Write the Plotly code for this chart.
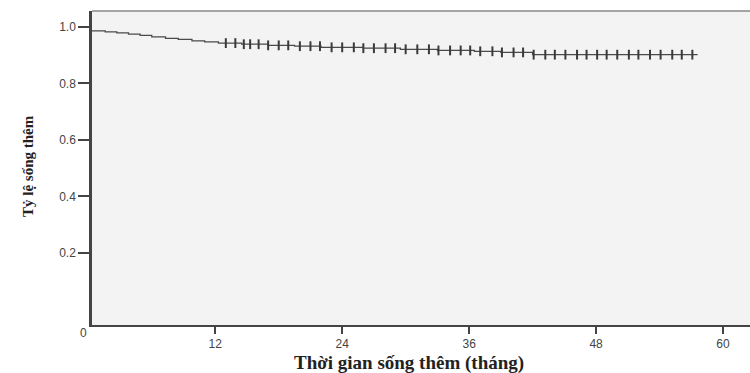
import plotly.graph_objects as go
import numpy as np

# Kaplan-Meier step data
event_times = [0, 1.6, 2.7, 3.8, 4.9, 6.0, 7.3, 8.5, 9.8, 11.0, 12.3, 14.5, 17.0, 19.5, 22.0, 26.0, 29.5, 33.0, 36.5, 39.0, 42.0]
survival = [0.986, 0.983, 0.979, 0.975, 0.970, 0.965, 0.960, 0.956, 0.951, 0.947, 0.943, 0.939, 0.935, 0.932, 0.928, 0.925, 0.921, 0.917, 0.914, 0.910, 0.902]
end_time = 57.6
censor_times = [13.0, 13.9, 14.7, 15.3, 16.1, 17.0, 18.0, 18.9, 20.0, 21.0, 21.9, 23.0, 24.0, 25.1,
                26.0, 27.0, 28.1, 29.0, 30.0, 31.1, 32.2, 33.1, 34.2, 35.2, 36.1, 37.05, 38.2, 39.1,
                40.2, 41.1, 42.1, 43.2, 44.1, 45.1, 46.2, 47.1, 48.1, 49.0, 50.0, 51.1, 52.0, 53.1,
                54.1, 55.2, 56.1, 57.1]
x_ticks = [12, 24, 36, 48, 60]
y_ticks = [0.2, 0.4, 0.6, 0.8, 1.0]
y_ticklabels = ["0.2", "0.4", "0.6", "0.8", "1.0"]

def surv_at(t):
    idx = np.searchsorted(event_times, t, side="right") - 1
    return survival[max(idx, 0)]

line_x = event_times + [end_time]
line_y = survival + [survival[-1]]

fig = go.Figure()
fig.add_trace(go.Scatter(x=line_x, y=line_y, mode="lines",
                         line=dict(shape="hv", color="#4a4a4a", width=1.3),
                         hoverinfo="skip", showlegend=False))
fig.add_trace(go.Scatter(x=censor_times, y=[surv_at(t) for t in censor_times], mode="markers",
                         marker=dict(symbol="line-ns", size=7, line=dict(color="#3a3a3a", width=2)),
                         showlegend=False))

fig.update_layout(
    width=750, height=373,
    margin=dict(l=92, r=0, t=11, b=48),
    paper_bgcolor="white", plot_bgcolor="#f3f3f3",
    font=dict(family="Liberation Sans, Arial, sans-serif", size=12, color="#444444"),
    xaxis=dict(range=[0.35, 62.55], tickvals=x_ticks, ticks="outside", ticklen=7, tickwidth=2,
               tickcolor="#444444", showline=True, linecolor="#444444", linewidth=2,
               showgrid=False, zeroline=False, tickfont=dict(size=12, color="#444444")),
    yaxis=dict(range=[-0.0549, 1.0566], tickvals=y_ticks, ticktext=y_ticklabels, ticks="outside",
               ticklen=11, tickwidth=2, tickcolor="#444444", showline=True, linecolor="#444444",
               linewidth=2.5, showgrid=False, zeroline=False, tickfont=dict(size=12, color="#444444")),
    shapes=[dict(type="line", xref="paper", yref="paper", x0=0, x1=1, y0=1, y1=1,
                 line=dict(color="#888888", width=1.5))],
    annotations=[
        dict(text="0", xref="paper", yref="paper", x=-(92 - 83) / 658, y=-(333 - 325) / 314, showarrow=False,
             xanchor="center", yanchor="middle", font=dict(size=12, color="#444444")),
        dict(text="<b>Thời gian sống thêm (tháng)</b>", xref="paper", yref="paper",
             x=(409 - 92) / 658, y=-(363 - 325) / 314, showarrow=False, xanchor="center", yanchor="middle",
             font=dict(family="Liberation Serif, Times New Roman, serif", size=19, color="#222222")),
        dict(text="<b>Tỷ lệ sống thêm</b>", xref="paper", yref="paper", textangle=-90,
             x=-(92 - 28) / 658, y=(325 - 166) / 314, showarrow=False, xanchor="center", yanchor="middle",
             font=dict(family="Liberation Serif, Times New Roman, serif", size=15, color="#222222")),
    ],
)

fig.write_html("out.html")
